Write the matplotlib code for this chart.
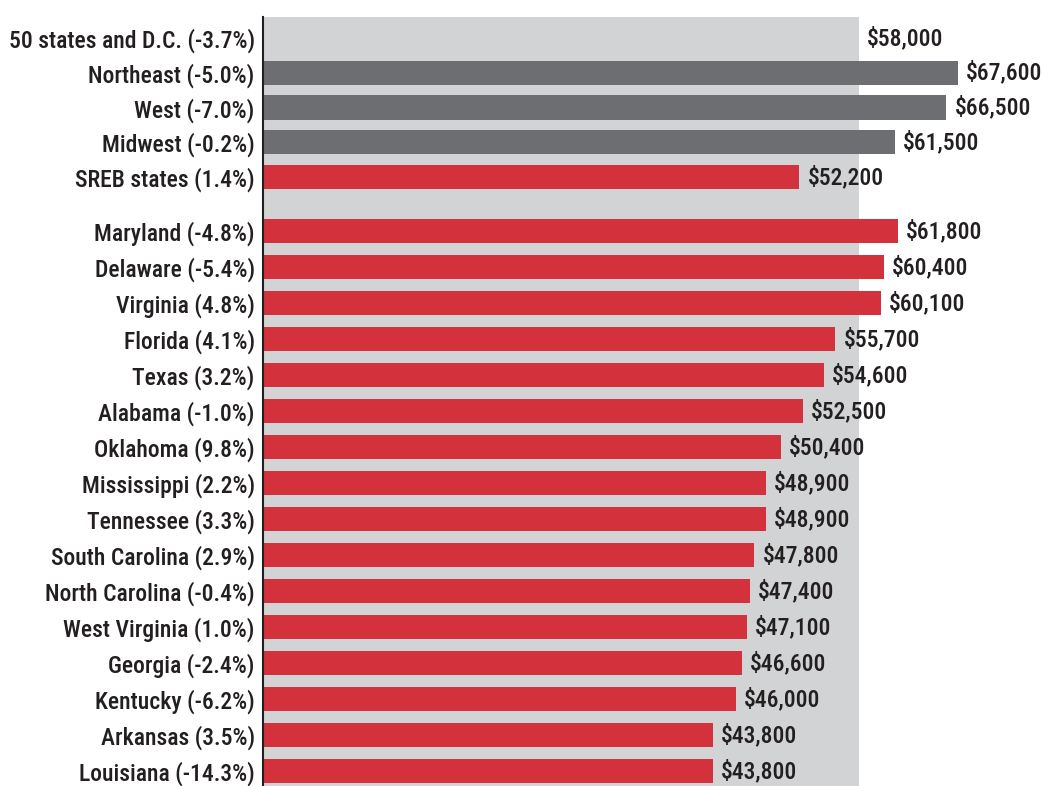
import numpy as np
import matplotlib.pyplot as plt
from matplotlib.patches import Rectangle

plt.rcParams['font.family'] = ['Roboto Condensed', 'Archivo Narrow', 'DejaVu Sans']
plt.rcParams['font.weight'] = 'medium'

# regional rows (the first one is the national average, drawn as background only)
top_labels = ['50 states and D.C. (-3.7%)', 'Northeast (-5.0%)', 'West (-7.0%)',
              'Midwest (-0.2%)', 'SREB states (1.4%)']
top_values = [58000, 67600, 66500, 61500, 52200]
top_kind = ['avg', 'region', 'region', 'region', 'sreb']

states = ['Maryland (-4.8%)', 'Delaware (-5.4%)', 'Virginia (4.8%)', 'Florida (4.1%)',
          'Texas (3.2%)', 'Alabama (-1.0%)', 'Oklahoma (9.8%)', 'Mississippi (2.2%)',
          'Tennessee (3.3%)', 'South Carolina (2.9%)', 'North Carolina (-0.4%)',
          'West Virginia (1.0%)', 'Georgia (-2.4%)', 'Kentucky (-6.2%)',
          'Arkansas (3.5%)', 'Louisiana (-14.3%)']
state_values = [61800, 60400, 60100, 55700, 54600, 52500, 50400, 48900,
                48900, 47800, 47400, 47100, 46600, 46000, 43800, 43800]

red = '#D3323C'
dark = '#6D6E71'
light = '#D1D3D4'
txt = '#231F20'
fs = 17

# layout: slightly tighter spacing in the top block, gap before states
y_top = np.arange(len(top_labels)) * 0.965
y_states = y_top[-1] + 1.5 + np.arange(len(states))

fig = plt.figure(figsize=(10.43, 7.86), dpi=100)
ax = fig.add_axes([263 / 1043, 0, 780 / 1043, 1 - 17 / 786])

national = top_values[0]
ax.add_patch(Rectangle((0, -10), national, 100, color=light, zorder=0, lw=0))

h = 0.67
colors = {'region': dark, 'sreb': red}
for y, v, k in zip(y_top, top_values, top_kind):
    if k != 'avg':
        ax.barh(y, v, height=h, color=colors[k], zorder=2)
    ax.text(v + 800, y, f'${v:,}', va='center', ha='left', fontsize=fs, color=txt)

ax.barh(y_states, state_values, height=h, color=red, zorder=2)
for y, v in zip(y_states, state_values):
    ax.text(v + 800, y, f'${v:,}', va='center', ha='left', fontsize=fs, color=txt)

ax.set_xlim(0, 75900)
ax.set_ylim(y_states[-1] + 0.417, -0.583)

ax.set_yticks(list(y_top) + list(y_states))
ax.set_yticklabels(top_labels + states, fontsize=fs, color=txt)
ax.tick_params(axis='y', length=0, pad=6)
ax.set_xticks([])

for s in ['top', 'right', 'bottom']:
    ax.spines[s].set_visible(False)
ax.spines['left'].set_linewidth(1.5)
ax.spines['left'].set_color('#231F20')
ax.spines['left'].set_zorder(3)
ax.patch.set_alpha(0)

fig.savefig('out.png', dpi=100)
